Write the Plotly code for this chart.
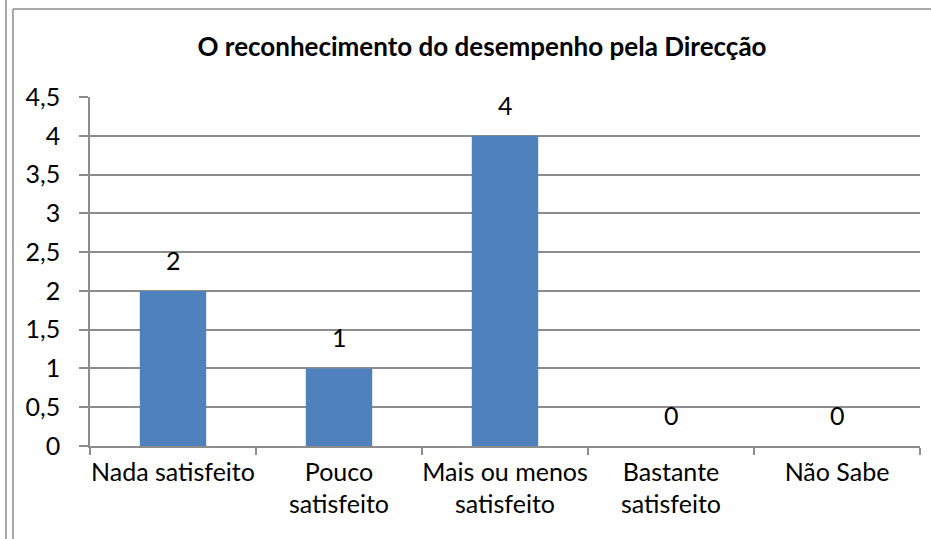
import plotly.graph_objects as go

categories = ["Nada satisfeito", "Pouco<br>satisfeito", "Mais ou menos<br>satisfeito",
              "Bastante<br>satisfeito", "Não Sabe"]
values = [2, 1, 4, 0, 0]
y_ticks = [0, 0.5, 1, 1.5, 2, 2.5, 3, 3.5, 4, 4.5]
y_tick_labels = ["0", "0,5", "1", "1,5", "2", "2,5", "3", "3,5", "4", "4,5"]
title_text = "O reconhecimento do desempenho pela Direcção"

W, H = 931, 539
L, R, T, B = 90, 11, 97, 93
pw, ph = W - L - R, H - T - B

def px_x(px):
    return (px - L) / pw

def px_y(py):
    return (H - B - py) / ph

FONT = "Lato, Carlito, Calibri, sans-serif"
GRID = "#8c8c8c"
FS = 25

fig = go.Figure(go.Bar(
    x=categories, y=values,
    marker=dict(color="#4F81BD", line=dict(width=0)),
    hoverinfo="skip",
))

annotations = [
    dict(x=c, y=v, xref="x", yref="y", text=str(v), showarrow=False,
         xanchor="center", yanchor="bottom", yshift=14,
         font=dict(family=FONT, size=FS, color="#000000"))
    for c, v in zip(categories, values)
]

border = dict(color="#8c8c8c", width=1.5)
fig.update_layout(
    width=W, height=H,
    margin=dict(l=L, r=R, t=T, b=B, pad=0, autoexpand=False),
    paper_bgcolor="white", plot_bgcolor="white",
    separators=",.",
    font=dict(family=FONT, size=FS, color="#000000"),
    bargap=0.6,
    showlegend=False,
    annotations=annotations,
    title=dict(text="<b>" + title_text + "</b>", x=482 / W, xref="container",
               xanchor="center", y=1 - 47 / H, yref="container", yanchor="middle",
               font=dict(family=FONT, size=26, color="#000000")),
    xaxis=dict(showgrid=False, showline=True, linecolor=GRID, linewidth=1.5,
               ticks="outside", ticklen=7, tickcolor=GRID, tickwidth=1.5,
               tickson="boundaries", tickfont=dict(size=FS), tickangle=0,
               automargin=False, zeroline=False, ticklabelstandoff=3),
    yaxis=dict(range=[0, 4.5], tickvals=y_ticks, ticktext=y_tick_labels,
               showgrid=True, gridcolor=GRID, gridwidth=1.5,
               showline=True, linecolor=GRID, linewidth=1.5,
               ticks="outside", ticklen=9, tickcolor=GRID, tickwidth=1.5,
               tickfont=dict(size=FS), automargin=False, zeroline=False,
               ticklabelstandoff=14),
    shapes=[
        dict(type="line", xref="paper", yref="paper", x0=px_x(6), x1=px_x(6),
             y0=px_y(H + 5), y1=px_y(-5), line=border),
        dict(type="line", xref="paper", yref="paper", x0=px_x(13), x1=px_x(13),
             y0=px_y(H + 5), y1=px_y(9), line=border),
        dict(type="line", xref="paper", yref="paper", x0=px_x(13), x1=px_x(W + 5),
             y0=px_y(9), y1=px_y(9), line=border),
    ],
)

fig.write_html(
    "out.html",
    config={"displayModeBar": False},
    post_script="document.body.style.margin='0';document.body.style.overflow='hidden';",
)
